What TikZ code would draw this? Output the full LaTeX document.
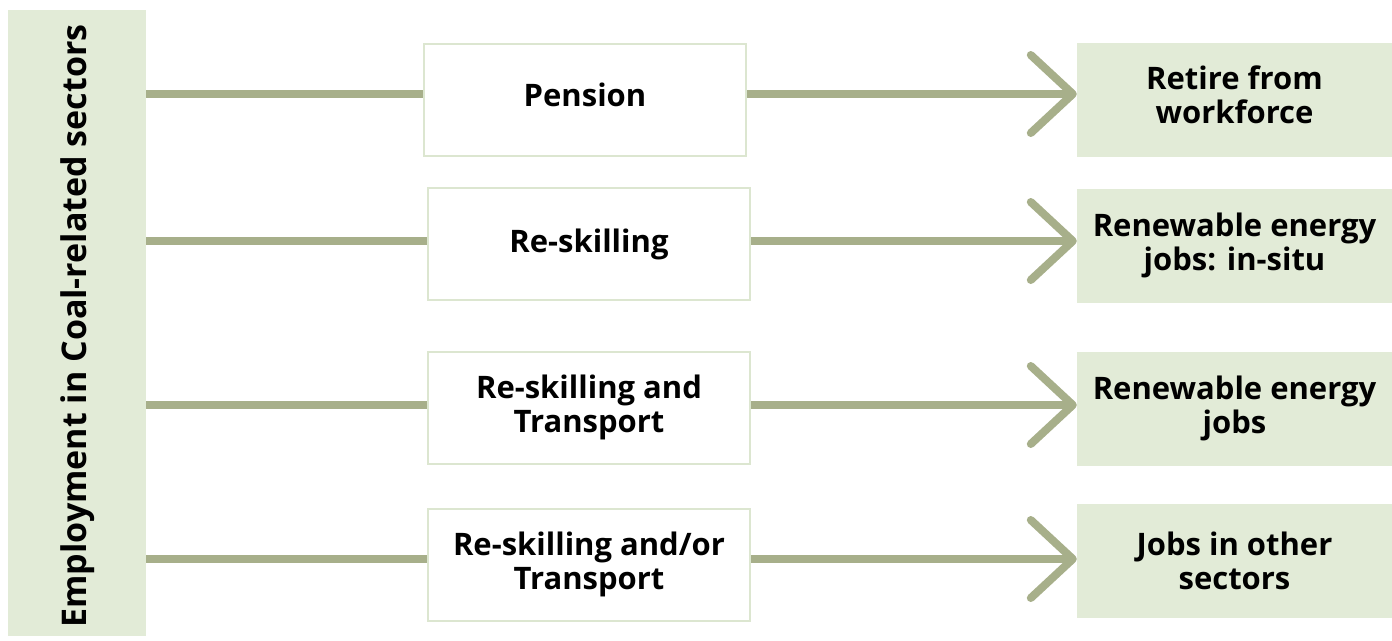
\documentclass[tikz,border=0pt]{standalone}
\usepackage{fontspec}
\setmainfont{Open Sans}
\usetikzlibrary{arrows.meta}
\definecolor{pale}{HTML}{E2EBD7}
\definecolor{sage}{HTML}{A7AF8A}
\definecolor{boxedge}{HTML}{DCE6D0}
\begin{document}
\begin{tikzpicture}[x=1pt,y=-1pt,
  txt/.style={font=\bfseries\fontsize{31}{34}\selectfont, align=center, text=black},
  bartxt/.style={font=\bfseries\fontsize{34}{38}\selectfont, text=black},
  barbox/.style={fill=pale, draw=none, inner sep=0pt, minimum width=138pt, minimum height=626pt},
  midbox/.style={txt, draw=boxedge, line width=2pt, fill=white, inner sep=0pt, minimum width=322pt, minimum height=112pt},
  outbox/.style={txt, fill=pale, draw=none, inner sep=0pt, minimum width=315pt, minimum height=114pt},
  lifted/.style={text depth=10pt},
  link/.style={draw=sage, line width=8pt},
  arrowlink/.style={link, -{Straight Barb[round, length=42pt, width=78pt]}}
]
\useasboundingbox (0,0) rectangle (1392,640);
\node[barbox] (bar) at (77,323) {};
\node[bartxt, rotate=90] (bartext) at (78,326) {Employment in Coal-related sectors};

\node[midbox, lifted] (m1) at (585,100) {Pension};
\node[midbox] (m2) at (589,244) {Re-skilling};
\node[midbox] (m3) at (589,407.5) {Re-skilling and\\Transport};
\node[midbox] (m4) at (589,564.5) {Re-skilling and/or\\Transport};

\node[outbox, lifted] (o1) at (1234.5,99.5) {Retire from\\workforce};
\node[outbox] (o2) at (1234.5,245.5) {Renewable energy\\jobs: in-situ};
\node[outbox] (o3) at (1234.5,408.5) {Renewable energy\\jobs};
\node[outbox] (o4) at (1234.5,561) {Jobs in other\\sectors};

\draw[link] (bar.east |- 0,94) -- (m1.west |- 0,94);
\draw[link] (bar.east |- 0,241) -- (m2.west |- 0,241);
\draw[link] (bar.east |- 0,405) -- (m3.west |- 0,405);
\draw[link] (bar.east |- 0,559) -- (m4.west |- 0,559);

\draw[arrowlink] (m1.east |- 0,94) -- (o1.west |- 0,94);
\draw[arrowlink] (m2.east |- 0,241) -- (o2.west |- 0,241);
\draw[arrowlink] (m3.east |- 0,405) -- (o3.west |- 0,405);
\draw[arrowlink] (m4.east |- 0,559) -- (o4.west |- 0,559);
\end{tikzpicture}
\end{document}
